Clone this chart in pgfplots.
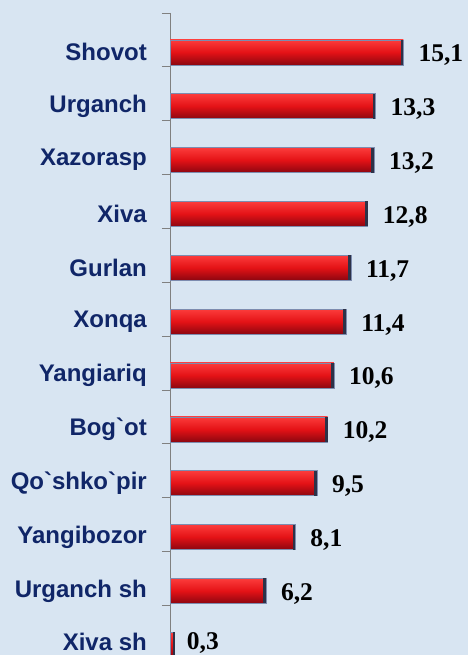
\documentclass[border=0pt]{standalone}
\usepackage{fontspec}
\setmainfont{Liberation Sans}[Ligatures=TeXOff]
\newfontfamily\serifb{Liberation Serif}
\usepackage{pgfplots}
\usepackage{pgfplotstable}
\pgfplotsset{compat=1.18}
\definecolor{bgcol}{RGB}{216,229,242}
\definecolor{navy}{RGB}{16,38,104}
\definecolor{axgray}{RGB}{128,128,128}
\definecolor{bartop}{RGB}{252,60,60}
\definecolor{barmid}{RGB}{228,18,22}
\definecolor{barbot}{RGB}{140,6,16}
\definecolor{barline}{RGB}{125,140,175}
\definecolor{capcol}{RGB}{45,50,72}
\pgfplotstableread{
y x xe label
0 15.1 0.17 15,1
1 13.3 0.17 13,3
2 13.2 0.17 13,2
3 12.8 0.17 12,8
4 11.7 0.17 11,7
5 11.4 0.17 11,4
6 10.6 0.17 10,6
7 10.2 0.17 10,2
8 9.5 0.17 9,5
9 8.1 0.17 8,1
10 6.2 0.17 6,2
11 0.3 0.1 0,3
}\datatab
\pgfplotsset{
  mybar/.style={xbar, bar shift=0pt, draw=barline, line width=0.5pt,
    top color=bartop, bottom color=barbot, middle color=barmid,
    error bars/x dir=minus, error bars/x explicit, error bars/error mark=none,
    error bars/error bar style={line width=25pt, draw=capcol, line cap=butt}},
}
\begin{document}
\begin{tikzpicture}
\fill[bgcol] (0,0) rectangle (468pt,655pt);
\begin{axis}[
  at={(170pt,0pt)}, anchor=south west,
  scale only axis, width=298pt, height=642pt,
  xmin=0, xmax=19.29,
  y dir=reverse, ymin=-0.73, ymax=11.19,
  hide x axis,
  axis y line*=left,
  y axis line style={axgray, line width=0.8pt},
  ytick={0,...,10},
  yticklabels={Shovot,Urganch,Xazorasp,Xiva,Gurlan,Xonqa,Yangiariq,Bog\symbol{96}ot,Qo\symbol{96}shko\symbol{96}pir,Yangibozor,Urganch sh},
  extra y ticks={11},
  extra y tick labels={Xiva sh},
  extra y tick style={yticklabel style={yshift=3pt}},
  yticklabel style={font=\bfseries\fontsize{24}{24}\selectfont, text=navy, inner sep=0pt, xshift=-23pt, anchor=east},
  major tick length=0pt,
  minor ytick={-0.73,0.27,...,10.27},
  minor tick length=8pt,
  tick align=outside,
  minor tick style={axgray, line width=0.8pt},
  xbar, bar width=25pt,
  nodes near coords,
  point meta=explicit symbolic,
  every node near coord/.append style={font=\serifb\bfseries\fontsize{25.5}{25.5}\selectfont, text=black, anchor=west, inner sep=0pt, xshift=15pt, yshift=-3pt},
]
\pgfplotsinvokeforeach{0,...,10}{
  \addplot[mybar, x filter/.expression={\coordindex==#1 ? x : nan}] table[x=x, y=y, x error=xe, meta=label] {\datatab};
}
\addplot[mybar, x filter/.expression={\coordindex==11 ? x : nan},
  every node near coord/.append style={yshift=5pt, xshift=-3pt}] table[x=x, y=y, x error=xe, meta=label] {\datatab};
\end{axis}
\pgfresetboundingbox
\path (0,0) rectangle (468pt,655pt);
\end{tikzpicture}
\end{document}
